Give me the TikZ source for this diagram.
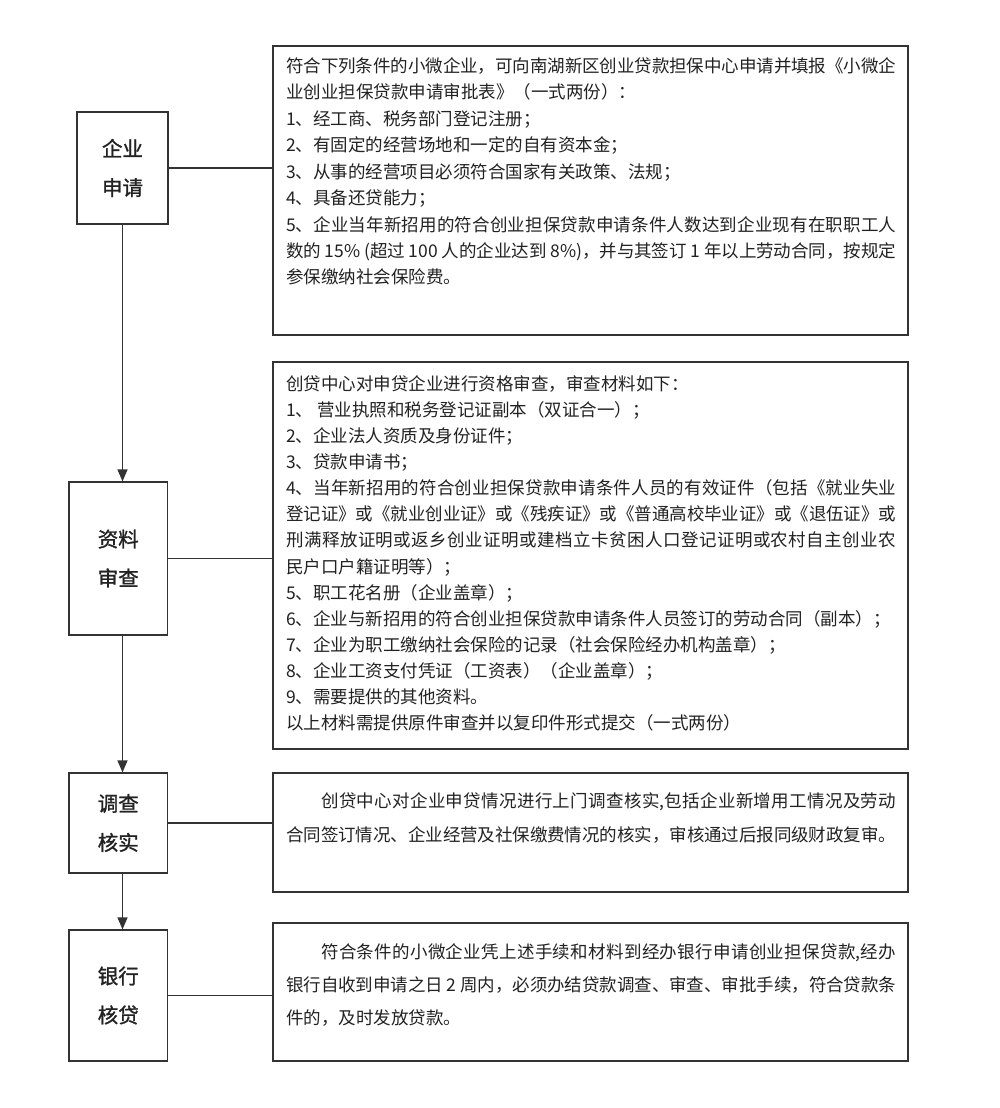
\documentclass[tikz,border=0pt]{standalone}
\usepackage{fontspec}
\setmainfont{Noto Sans CJK SC}
\newfontfamily\lblfont[FakeBold=1.2]{Noto Sans CJK SC}
\usetikzlibrary{arrows.meta}
\XeTeXlinebreaklocale "zh"
\XeTeXlinebreakskip=0pt plus 2pt minus 0.6pt
\definecolor{linec}{HTML}{333333}
\definecolor{txtc}{HTML}{222222}
\newcommand{\tblock}[2]{\parbox[t]{610pt}{\fontsize{17.5pt}{#1}\selectfont #2}}
\begin{document}
\begin{tikzpicture}[x=1pt,y=-1pt,
  box/.style={draw=linec, line width=1.2pt, rectangle, inner sep=0pt},
  lbl/.style={box, align=center, font=\lblfont\fontsize{20.5pt}{39pt}\selectfont, text=txtc},
  txt/.style={anchor=base west, inner sep=0pt, text=txtc},
  arr/.style={draw=linec, line width=1.2pt, -{Triangle[width=10pt,length=12pt]}},
  con/.style={draw=linec, line width=1.2pt}]
\useasboundingbox (0,0) rectangle (1000,1108);
\fill[white] (0,0) rectangle (1000,1108);

% left step boxes
\node[lbl, minimum width=91pt, minimum height=112pt] (b1) at (122.5,168) {企业\\申请};
\node[lbl, minimum width=98.5pt, minimum height=153pt] (b2) at (118.25,558.5) {资料\\审查};
\node[lbl, minimum width=98.5pt, minimum height=100pt] (b3) at (118.25,823) {调查\\核实};
\node[lbl, minimum width=98.5pt, minimum height=131pt] (b4) at (118.25,995.5) {银行\\核贷};

% right text boxes
\node[box, minimum width=635pt, minimum height=289pt] (t1) at (590.5,190.5) {};
\node[box, minimum width=635pt, minimum height=387pt] (t2) at (590.5,555.5) {};
\node[box, minimum width=635pt, minimum height=119pt] (t3) at (590.5,832.5) {};
\node[box, minimum width=635pt, minimum height=138pt] (t4) at (590.5,992) {};

% arrows
\draw[arr] (b1.south) -- (b1.south |- b2.north);
\draw[arr] (b1.south |- b2.south) -- (b1.south |- b3.north);
\draw[arr] (b1.south |- b3.south) -- (b1.south |- b4.north);

% connectors
\draw[con] (b1.east) -- (b1.east -| t1.west);
\draw[con] (b2.east) -- (b2.east -| t2.west);
\draw[con] (b3.east) -- (b3.east -| t3.west);
\draw[con] (b4.east) -- (b4.east -| t4.west);

% texts
\node[txt] (x1) at (286,72.6) {\tblock{26.4pt}{%
符合下列条件的小微企业，可向南湖新区创业贷款担保中心申请并填报《小微企\linebreak
业创业担保贷款申请审批表》（一式两份）：\par
1、经工商、税务部门登记注册；\par
2、有固定的经营场地和一定的自有资本金；\par
3、从事的经营项目必须符合国家有关政策、法规；\par
4、具备还贷能力；\par
5、企业当年新招用的符合创业担保贷款申请条件人数达到企业现有在职职工人\linebreak
数的 15\% (超过 100 人的企业达到 8\%)，并与其签订 1 年以上劳动合同，按规定\linebreak
参保缴纳社会保险费。}};

\node[txt] (x2) at (286,390) {\tblock{26.15pt}{%
创贷中心对申贷企业进行资格审查，审查材料如下：\par
1、 营业执照和税务登记证副本（双证合一）；\par
2、企业法人资质及身份证件；\par
3、贷款申请书；\par
4、当年新招用的符合创业担保贷款申请条件人员的有效证件（包括《就业失业\linebreak
登记证》或《就业创业证》或《残疾证》或《普通高校毕业证》或《退伍证》或\linebreak
刑满释放证明或返乡创业证明或建档立卡贫困人口登记证明或农村自主创业农\linebreak
民户口户籍证明等）；\par
5、职工花名册（企业盖章）；\par
6、企业与新招用的符合创业担保贷款申请条件人员签订的劳动合同（副本）；\par
7、企业为职工缴纳社会保险的记录（社会保险经办机构盖章）；\par
8、企业工资支付凭证（工资表）（企业盖章）；\par
9、需要提供的其他资料。\par
以上材料需提供原件审查并以复印件形式提交（一式两份）}};

\node[txt] (x3) at (286,807.3) {\tblock{34.3pt}{%
\hspace*{2em}创贷中心对企业申贷情况进行上门调查核实,包括企业新增用工情况及劳动\linebreak
合同签订情况、企业经营及社保缴费情况的核实，审核通过后报同级财政复审。}};

\node[txt] (x4) at (286,958.3) {\tblock{33.3pt}{%
\hspace*{2em}符合条件的小微企业凭上述手续和材料到经办银行申请创业担保贷款,经办\linebreak
银行自收到申请之日 2 周内，必须办结贷款调查、审查、审批手续，符合贷款条\linebreak
件的，及时发放贷款。}};
\end{tikzpicture}
\end{document}
